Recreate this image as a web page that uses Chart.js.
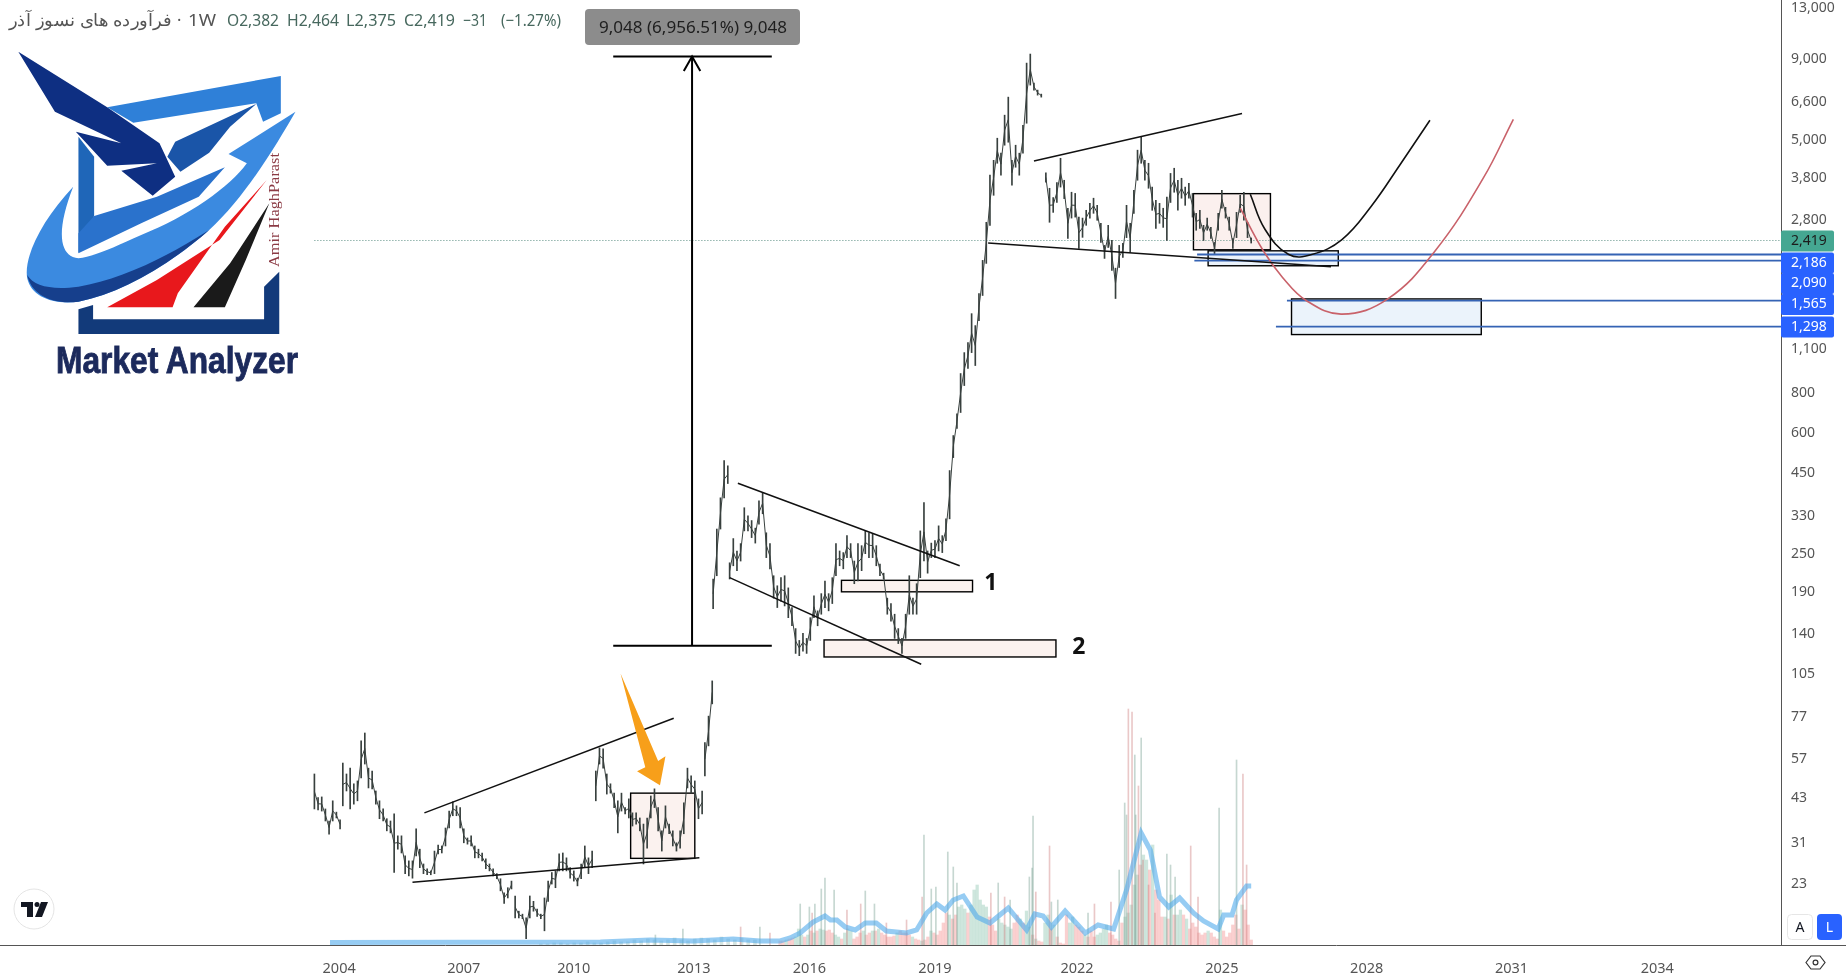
<!DOCTYPE html>
<html>
<head>
<meta charset="utf-8">
<title>chart</title>
<script src="https://cdn.jsdelivr.net/npm/chart.js@4"></script>
<style>
  html, body { margin: 0; padding: 0; background: #fff; overflow: hidden; }
  #wrap { position: relative; width: 1846px; height: 978px; }
  #chart { position: absolute; left: 0; top: 0; }
  #over { position: absolute; left: 0; top: 0; pointer-events: none; }
</style>
</head>
<body>
<div id="wrap">
  <canvas id="chart" width="1846" height="978"></canvas>
  <svg id="over" width="1846" height="978" viewBox="0 0 1846 978">
    <!-- header -->
    <g font-family="Noto Sans" font-size="16.5">
      <text x="9" y="26" fill="#555" direction="ltr" font-family="Noto Sans, Noto Sans CJK SC" textLength="162" lengthAdjust="spacingAndGlyphs">فرآورده های نسوز آذر</text>
      <text x="177" y="26" fill="#555">·</text>
      <text x="188" y="26" fill="#555" textLength="28" lengthAdjust="spacingAndGlyphs">1W</text>
      <g fill="#47685e">
        <text x="227" y="26" textLength="52" lengthAdjust="spacingAndGlyphs">O2,382</text>
        <text x="287" y="26" textLength="52" lengthAdjust="spacingAndGlyphs">H2,464</text>
        <text x="346" y="26" textLength="50" lengthAdjust="spacingAndGlyphs">L2,375</text>
        <text x="404" y="26" textLength="51" lengthAdjust="spacingAndGlyphs">C2,419</text>
        <text x="463" y="26" textLength="24" lengthAdjust="spacingAndGlyphs">−31</text>
        <text x="501" y="26" textLength="60" lengthAdjust="spacingAndGlyphs">(−1.27%)</text>
      </g>
    </g>
    <!-- ruler label -->
    <rect x="585" y="9" width="215" height="36" rx="4" fill="#8c8c8c"/>
    <text x="599" y="33" font-family="Noto Sans" font-size="17" fill="#1e1e1e" textLength="188" lengthAdjust="spacingAndGlyphs">9,048 (6,956.51%) 9,048</text>
    <!-- brand mark, drawn in a 1568x1200 box stretched over the top left corner -->
    <svg x="0" y="0" width="820" height="400" viewBox="0 0 1568 1200" preserveAspectRatio="none">
      <polygon points="205,322 537,228 537,340 503,365 490,310 255,368" fill="#2f80d8"/>
      <polygon points="150,410 180,470 180,648 150,760" fill="#1f66b8"/>
      <polygon points="180,648 300,590 430,502 380,590 270,670 150,760 150,700" fill="#2a72cc"/>
      <path d="M140,560 C80,660 45,770 52,835 C60,890 100,915 150,905 C230,880 320,800 400,690 C470,590 530,430 565,335 L437,462 L472,490 C440,560 360,650 270,705 C220,740 180,770 150,775 C115,770 105,700 140,560 Z" fill="#3b8ae0"/>
      <path d="M52,825 C60,885 100,915 150,905 C230,880 320,800 400,690 C320,770 230,840 150,860 C100,870 65,860 52,825 Z" fill="#163f8c"/>
      <polygon points="35,155 205,322 305,430 335,530 292,587 232,512 300,490 205,497 145,395 232,430 105,335" fill="#0e2f82"/>
      <polygon points="490,312 440,380 400,458 345,515 320,470 335,425" fill="#1a55a8"/>
      <polygon points="510,540 430,680 340,880 330,922 205,922 300,840 420,720" fill="#e8181c"/>
      <polygon points="515,610 470,780 430,922 370,922 440,790" fill="#1a1a1a"/>
      <polygon points="150,928 178,915 178,958 505,958 505,860 534,815 534,1002 150,1002" fill="#123a7a"/>
    </svg>
    <text transform="translate(279,267) rotate(-90)" font-family="Liberation Serif" font-size="14" fill="#8b3a44" textLength="114" lengthAdjust="spacingAndGlyphs">Amir HaghParast</text>
    <text x="56" y="373" font-family="Liberation Sans" font-weight="700" font-size="37" fill="#1c2a5c" stroke="#1c2a5c" stroke-width="0.9" textLength="242" lengthAdjust="spacingAndGlyphs">Market Analyzer</text>
    <!-- site badge -->
    <circle cx="34" cy="909" r="20" fill="#fff" stroke="#e4e4e4"/>
    <polygon points="21,902 33,902 33,917 27,917 27,907 21,907" fill="#131722"/>
    <circle cx="37" cy="904.5" r="2.5" fill="#131722"/>
    <polygon points="41,902 48,902 42,917 35,917" fill="#131722"/>
    <!-- scale buttons -->
    <rect x="1787.5" y="914.5" width="25" height="25" rx="4" fill="#fff" stroke="#e6e6e6"/>
    <text x="1800" y="932" text-anchor="middle" font-family="Noto Sans" font-size="14" fill="#131722">A</text>
    <rect x="1817" y="914" width="25" height="26" rx="4" fill="#2962ff"/>
    <text x="1829.5" y="932" text-anchor="middle" font-family="Noto Sans" font-size="14" fill="#fff">L</text>
    <!-- settings eye -->
    <polygon points="1806,962.5 1811,956 1820,956 1825,962.5 1820,969 1811,969" fill="none" stroke="#333" stroke-width="1.2"/>
    <circle cx="1815.5" cy="962.5" r="2.4" fill="none" stroke="#333" stroke-width="1.2"/>
  </svg>
</div>

<script>
// axis labels
var priceTicks = [13000, 9000, 6600, 5000, 3800, 2800, 1100, 800, 600, 450, 330, 250, 190, 140, 105, 77, 57, 43, 31, 23];
var yearLabels = ["2004", "2007", "2010", "2013", "2016", "2019", "2022", "2025", "2028", "2031", "2034"];
var yearBars = [370, 506, 626, 757, 883, 1020, 1175, 1333, 1491, 1649, 1808];
var lastBar = 1943;
var lastPrice = 2419;

// price history, one high and low every 4 bars, one pair of arrays per unbroken stretch
var priceStep = 4;
var highs1 = [51, 43, 43.2, 39.6, 36.3, 42, 38.7, 36.6];
var lows1 = [39.6, 39.3, 39, 36.3, 33, 36.3, 37.1, 34.3];
var highs2 = [55.2, 51, 53.2, 47.5, 48.5, 64.8, 68.6, 53.2, 52.1, 45.1, 42, 39.6, 36.9, 36.3, 38.2, 32.6, 32.6, 28.2, 27.2, 27.2, 34.3, 29.6, 26.6, 25.7, 25.3, 29.2, 30.5, 30.3, 34.5, 39, 41.7, 40.5, 40, 34.3, 32.1, 32.6, 30.3, 29.6, 28.8, 27.6, 26.6, 25.7, 24.8, 23.9, 21.6, 22.4, 23.5];
var lows2 = [40.5, 45.1, 39.6, 41, 42, 49.6, 54.8, 46.1, 45.8, 41, 36.9, 36.3, 33.8, 33.3, 25, 29.6, 28.8, 24.8, 24.4, 24, 28.2, 25.9, 24.8, 24.6, 24.6, 24.8, 28.6, 28.8, 30.3, 34.5, 37.7, 37.7, 34.5, 31, 30.7, 30.3, 27.8, 27.8, 27.2, 25.7, 25.3, 24.4, 23.9, 21.9, 20, 20.8, 22.2];
var highs3 = [21.1, 18.9, 18.5, 18, 21.1, 20.3, 19.2, 18.5, 20.8, 23.5, 25, 25.3, 28.6, 28.8, 27.8, 25.9, 25.3, 24, 26.6, 30.3, 27.8, 29.2];
var lows3 = [18, 18, 17.9, 15.5, 18, 18.9, 18.2, 17.9, 16.4, 20.3, 23, 22.4, 25.3, 25.3, 25.3, 24, 23.5, 22.7, 23.9, 25.9, 24.8, 25.9];
var highs4 = [52.1, 61.6, 61.2, 51, 47.5, 44.4, 42, 44.4, 40, 42.6, 38.5, 38.5, 37.1, 35.5, 37.1, 43.5, 45.8, 40, 33.8, 40.5, 35.5, 33.8, 31, 33.8, 41.4, 53.2, 50.3, 48.5, 42.6, 45.1];
var lows4 = [42, 54.8, 53.2, 44.1, 44.4, 40, 33.3, 39, 38.2, 37.1, 35, 35.5, 33.8, 26.6, 29.8, 37.1, 40, 33.8, 29.2, 34.5, 33.1, 30.3, 29.2, 29.8, 33.1, 46.1, 44.4, 43, 36.9, 38.2];
var highs5 = [64, 77.5, 100];
var lows5 = [50.3, 62.5, 84.7];
var highs6 = [209, 300, 376, 492, 474];
var lows6 = [168.5, 214, 300, 376, 417];
var highs7 = [235, 280, 256, 270, 350, 330, 319, 302, 368, 390, 292, 270, 214, 199, 211, 214, 196, 170, 146, 134, 141, 136, 158, 185, 166, 188, 206, 188, 211, 270, 256, 253, 286, 270, 238, 270, 266, 296, 292, 290, 266, 233, 218, 182, 175, 162, 146, 136, 162, 214, 182, 202, 296, 363, 256, 271, 276, 307, 286, 323, 458, 590, 690, 924, 1075, 1156, 1425, 1307, 1648, 2095, 2760, 3880, 4320, 5070, 4550, 5990, 6825, 4320, 4820, 4550, 5570, 8730, 9320, 7550, 7180, 6975];
var lows7 = [209, 230, 222, 238, 296, 296, 282, 271, 311, 335, 244, 225, 182, 170, 178, 172, 158, 149, 122, 120, 124, 122, 134, 158, 149, 162, 170, 166, 175, 214, 230, 225, 244, 244, 202, 206, 222, 251, 244, 244, 230, 214, 209, 162, 154, 136, 131, 122, 136, 162, 162, 162, 211, 238, 218, 244, 244, 256, 253, 276, 323, 503, 621, 697, 847, 958, 1075, 979, 1355, 1625, 2050, 2700, 3355, 4230, 3880, 4820, 4925, 3610, 4110, 3880, 4550, 5650, 7445, 7180, 6925, 6825];
var highs8 = [3950, 3530, 3300, 3680, 4385, 3740, 3055, 3430, 3400, 2865, 2845, 3010, 3165, 3285, 3120, 2740, 2335, 2700, 2420, 1980, 2335, 2370, 3120, 2740, 3480, 4650, 5110, 4320, 4230, 3560, 3235, 3165, 3055, 3310, 3930, 4080, 3740, 3795, 3560, 3660, 3400, 2945, 3010, 2700, 2845, 2660, 2385, 2945, 3480, 3075, 2865, 2455, 2965, 3355, 3430, 2760, 2464];
var lows8 = [3690, 2760, 2965, 3185, 3560, 3275, 2455, 2845, 2865, 2285, 2475, 2700, 2845, 2945, 2800, 2385, 2125, 2300, 1950, 1590, 1990, 2140, 2470, 2220, 2945, 3740, 4230, 3740, 3530, 3010, 2640, 2740, 2660, 2420, 3185, 3430, 3010, 3285, 3120, 3285, 2865, 2605, 2640, 2420, 2605, 2455, 2200, 2605, 3055, 2845, 2605, 2285, 2470, 2965, 2800, 2470, 2375];
var stretchStart = [343, 374, 562, 650, 769, 778, 796, 1141];
var stretchHighs = [highs1, highs2, highs3, highs4, highs5, highs6, highs7, highs8];
var stretchLows = [lows1, lows2, lows3, lows4, lows5, lows6, lows7, lows8];

// volume, hidden axis
var volEarlyStart = 590;
var volEarlyStep = 7.3;
var volEarly = [1, 1, 2, 2, 1, 2, 2, 3, 2, 2, 3, 4, 3, 3, 5, 4, 6, 5, 4, 5, 7, 5, 4, 6, 7, 6, 5, 8, 6, 5, 7, 5, 5];
var volStart = 851;
var volStep = 3.36;
var volBase = [4, 4, 5, 6, 7, 8, 16, 10, 8, 10, 14, 12, 14, 16, 15, 14, 15, 12, 10, 8, 6, 12, 16, 14, 6, 8, 12, 14, 10, 12, 14, 14, 16, 12, 10, 8, 8, 9, 12, 14, 12, 12, 10, 8, 6, 5, 4, 5, 8, 14, 12, 10, 14, 22, 32, 30, 26, 30, 38, 40, 36, 32, 40, 55, 60, 45, 40, 38, 28, 20, 14, 26, 22, 20, 18, 16, 22, 30, 26, 22, 34, 18, 10, 6, 4, 3, 22, 30, 16, 20, 8, 2, 1, 30, 22, 28, 20, 18, 14, 10, 8, 14, 8, 10, 12, 16, 20, 12, 10, 6, 4, 22, 28, 32, 40, 60, 70, 80, 90, 85, 75, 100, 55, 45, 28, 28, 26, 50, 30, 30, 35, 30, 26, 16, 22, 18, 12, 10, 12, 14, 12, 8, 6, 35, 14, 8, 12, 20, 30, 16, 40, 35, 20, 5];
var volBaseUp = [0, 0, 1, 0, 0, 1, 1, 1, 0, 1, 0, 1, 0, 1, 1, 0, 0, 0, 1, 1, 0, 1, 1, 1, 0, 0, 0, 1, 0, 0, 1, 0, 1, 0, 0, 0, 0, 0, 1, 0, 0, 0, 0, 1, 0, 0, 1, 0, 0, 1, 0, 0, 0, 0, 0, 1, 0, 0, 1, 1, 1, 0, 1, 1, 1, 1, 1, 1, 0, 0, 0, 1, 1, 1, 1, 1, 0, 0, 1, 0, 1, 1, 0, 1, 0, 0, 1, 1, 0, 1, 0, 0, 0, 0, 1, 1, 0, 0, 0, 1, 0, 0, 0, 1, 1, 1, 1, 0, 0, 0, 0, 0, 1, 1, 1, 1, 1, 0, 1, 1, 0, 1, 0, 0, 0, 1, 0, 1, 0, 1, 1, 0, 1, 0, 0, 0, 0, 0, 0, 1, 0, 0, 0, 1, 0, 0, 0, 0, 0, 0, 1, 0, 0, 0];
var spikeBars = [715, 745, 808, 829, 840, 873, 883, 886, 889, 896, 900, 910, 924, 939, 944, 954, 967, 989, 1006, 1008, 1016, 1021, 1034, 1040, 1044, 1081, 1089, 1096, 1102, 1123, 1126, 1127, 1130, 1145, 1147, 1154, 1187, 1194, 1212, 1221, 1227, 1229, 1231, 1235, 1238, 1239, 1242, 1245, 1247, 1253, 1260, 1273, 1277, 1282, 1299, 1307, 1330, 1349, 1356, 1360];
var spikeVol = [10, 16, 18, 18, 12, 41, 38, 32, 41, 56, 67, 55, 35, 41, 54, 41, 22, 25, 48, 110, 56, 58, 93, 78, 62, 52, 62, 48, 45, 68, 77, 129, 53, 99, 43, 45, 32, 41, 43, 75, 142, 130, 236, 233, 190, 130, 159, 207, 85, 60, 32, 91, 80, 68, 99, 48, 137, 185, 171, 80];
var spikeUp = [1, 1, 0, 1, 0, 1, 1, 0, 1, 1, 1, 1, 0, 0, 1, 1, 0, 0, 0, 1, 1, 1, 1, 1, 1, 0, 1, 0, 1, 1, 1, 1, 0, 0, 1, 1, 1, 0, 0, 1, 1, 1, 0, 0, 1, 1, 0, 1, 0, 0, 0, 1, 1, 1, 0, 0, 1, 1, 0, 0];
var volAvgBars = [360, 655, 709, 756, 800, 829, 851, 862, 873, 887, 900, 906, 913, 922, 933, 944, 956, 967, 989, 1000, 1011, 1022, 1031, 1040, 1051, 1066, 1080, 1100, 1120, 1129, 1138, 1147, 1162, 1184, 1198, 1215, 1229, 1245, 1255, 1265, 1275, 1287, 1302, 1313, 1329, 1335, 1344, 1349, 1360, 1365];
var volAvg = [2.5, 3, 5, 4, 6, 4, 4, 7, 12, 23, 29, 25, 25, 18, 15, 22, 22, 14, 12, 15, 32, 41, 35, 45, 49, 28, 22, 37, 15, 31, 29, 18, 34, 12, 20, 16, 55, 112, 95, 48, 38, 47, 32, 24, 16, 30, 30, 45, 59, 59];

// drawings
var trendLines = [
  { bars: [463, 735], prices: [38.5, 76.3] },
  { bars: [450, 763], prices: [23.3, 27.8] },
  { bars: [805, 1047], prices: [418, 230] },
  { bars: [796, 1005], prices: [211, 112.8] },
  { bars: [1128, 1355], prices: [4300, 6065] },
  { bars: [1078, 1452], prices: [2375, 2000] }
];
var rulerBars = [669, 842, 755, 755, 746, 755, 764];
var rulerTop = 9150;
var rulerBottom = 129;
var rulerHeadPrice = 8240;
var boxLeft = [688, 918, 899, 1302, 1318, 1409];
var boxRight = [758, 1061, 1152, 1386, 1460, 1616];
var boxTop = [44.4, 207, 134.5, 3395, 2245, 1585];
var boxBottom = [27.7, 190.5, 118.9, 2262, 2015, 1225];
var boxFill = ["#fbf2ef", "#fbf2ef", "#fbf2ef", "#fbf0ee", "#ebf3fb", "#ebf3fb"];
var levelValues = [2186, 2090, 1565, 1298];
var levelStart = [1306, 1303, 1404, 1392];
var blackCurveBars = [1364, 1380, 1406, 1431, 1464, 1496, 1527, 1560];
var blackCurve = [3380, 2625, 2185, 2185, 2435, 3100, 4170, 5775];
var redCurveBars = [1353, 1378, 1399, 1425, 1464, 1514, 1566, 1618, 1651];
var redCurve = [3055, 2250, 1855, 1567, 1420, 1585, 2250, 3790, 5815];
var arrowBars = [677, 718, 726, 720, 695, 704];
var arrowPrices = [105.5, 56, 58, 47, 52, 53.5];
var noteText = ["1", "2"];
var noteBars = [1081, 1177];
var notePrices = [202, 127];

// price scale tags sit stacked, they do not fall exactly on their level
var tagRows = [
  { text: "2,419", y: 241, fill: "#45a792", color: "#1c1c1c" },
  { text: "2,186", y: 263, fill: "#2962ff", color: "#fff" },
  { text: "2,090", y: 283.5, fill: "#2962ff", color: "#fff" },
  { text: "1,565", y: 304.5, fill: "#2962ff", color: "#fff" },
  { text: "1,298", y: 327, fill: "#2962ff", color: "#fff" }
];

var INK = "#38403e";
var datasets = [];

function lineSet(bars, prices, color, width, extra) {
  var d = {
    type: "line",
    data: bars.map(function(b, i) { return { x: b, y: prices[i] }; }),
    borderColor: color,
    borderWidth: width,
    pointRadius: 0,
    fill: false,
    tension: 0,
    yAxisID: "y",
    order: 1
  };
  for (var k in extra) d[k] = extra[k];
  return d;
}

// volume first so it stays under the price
datasets.push({
  type: "bar",
  data: volEarly.map(function(v, i) { return { x: volEarlyStart + i * volEarlyStep, y: v }; }),
  backgroundColor: "rgba(120,170,160,0.3)",
  barThickness: 3,
  yAxisID: "y2",
  order: 9
});
datasets.push({
  type: "bar",
  data: volBase.map(function(v, i) { return { x: volStart + i * volStep, y: v }; }),
  backgroundColor: volBaseUp.map(function(u) { return u ? "rgba(120,185,160,0.36)" : "rgba(239,110,110,0.32)"; }),
  barThickness: 2.6,
  yAxisID: "y2",
  order: 8
});
datasets.push({
  type: "bar",
  data: spikeBars.map(function(b, i) { return { x: b, y: spikeVol[i] }; }),
  backgroundColor: spikeUp.map(function(u) { return u ? "rgba(120,160,145,0.42)" : "rgba(205,125,125,0.42)"; }),
  barThickness: 1,
  yAxisID: "y2",
  order: 7
});
datasets.push(lineSet(volAvgBars, volAvg, "rgba(80,170,235,0.6)", 5, { yAxisID: "y2", order: 6 }));

// last price dotted line
datasets.push(lineSet([343, lastBar], [lastPrice, lastPrice], "#5c8f84", 1, { borderDash: [1, 2], order: 5 }));

// price, wicks and the path through them
stretchStart.forEach(function(start, n) {
  var highs = stretchHighs[n];
  var lows = stretchLows[n];
  var bars = highs.map(function(h, i) { return start + i * priceStep; });
  datasets.push({
    type: "bar",
    data: bars.map(function(b, i) { return { x: b, y: [lows[i], highs[i]] }; }),
    backgroundColor: INK,
    barThickness: 1,
    yAxisID: "y",
    order: 4
  });
  var mids = highs.map(function(h, i) { return Math.sqrt(h * lows[i]); });
  datasets.push(lineSet(bars, mids, INK, 1, { order: 4 }));
});

// drawn lines
levelValues.forEach(function(v, i) {
  datasets.push(lineSet([levelStart[i], lastBar], [v, v], "#3563b4", 1.8, { order: 3 }));
});
trendLines.forEach(function(t) {
  datasets.push(lineSet(t.bars, t.prices, "#111", 1.5, { order: 2 }));
});
datasets.push(lineSet([rulerBars[0], rulerBars[1]], [rulerTop, rulerTop], "#000", 2, { order: 2 }));
datasets.push(lineSet([rulerBars[0], rulerBars[1]], [rulerBottom, rulerBottom], "#000", 2, { order: 2 }));
datasets.push(lineSet([rulerBars[2], rulerBars[3]], [rulerBottom, rulerTop], "#000", 2, { order: 2 }));
datasets.push(lineSet([rulerBars[4], rulerBars[5], rulerBars[6]], [rulerHeadPrice, rulerTop, rulerHeadPrice], "#000", 2, { order: 2 }));
datasets.push(lineSet(blackCurveBars, blackCurve, "#111", 1.6, { tension: 0.4, order: 2 }));
datasets.push(lineSet(redCurveBars, redCurve, "#c9626a", 1.6, { tension: 0.4, order: 2 }));

var boxesPlugin = {
  id: "boxes",
  beforeDatasetsDraw: function(chart) {
    var c = chart.ctx, x = chart.scales.x, y = chart.scales.y;
    c.save();
    boxLeft.forEach(function(l, i) {
      var px = x.getPixelForValue(l), py = y.getPixelForValue(boxTop[i]);
      var w = x.getPixelForValue(boxRight[i]) - px, h = y.getPixelForValue(boxBottom[i]) - py;
      c.fillStyle = boxFill[i];
      c.fillRect(px, py, w, h);
      c.strokeStyle = "#000";
      c.lineWidth = 1.4;
      c.strokeRect(px, py, w, h);
    });
    c.restore();
  }
};

var marksPlugin = {
  id: "marks",
  afterDatasetsDraw: function(chart) {
    var c = chart.ctx, x = chart.scales.x, y = chart.scales.y;
    c.save();
    c.beginPath();
    arrowBars.forEach(function(b, i) {
      c.lineTo(x.getPixelForValue(b), y.getPixelForValue(arrowPrices[i]));
    });
    c.closePath();
    c.fillStyle = "#f79f1a";
    c.fill();
    c.fillStyle = "#111";
    c.font = "700 23px 'Noto Sans'";
    c.textAlign = "center";
    c.textBaseline = "middle";
    noteText.forEach(function(t, i) {
      c.fillText(t, x.getPixelForValue(noteBars[i]), y.getPixelForValue(notePrices[i]));
    });
    c.restore();
  },
  afterDraw: function(chart) {
    var c = chart.ctx, a = chart.chartArea;
    c.save();
    c.strokeStyle = "#555";
    c.lineWidth = 1;
    c.beginPath();
    c.moveTo(a.right, a.bottom + 0.5);
    c.lineTo(1846, a.bottom + 0.5);
    c.stroke();
    c.font = "14px 'Noto Sans'";
    c.textAlign = "left";
    c.textBaseline = "middle";
    tagRows.forEach(function(t) {
      c.fillStyle = t.fill;
      c.beginPath();
      c.roundRect(a.right, t.y - 10.5, 53, 21, 2);
      c.fill();
      c.fillStyle = t.color;
      c.fillText(t.text, a.right + 10, t.y);
    });
    c.restore();
  }
};

new Chart(document.getElementById("chart"), {
  data: { datasets: datasets },
  plugins: [boxesPlugin, marksPlugin],
  options: {
    responsive: false,
    animation: false,
    parsing: { xAxisKey: "x", yAxisKey: "y" },
    layout: { padding: 0 },
    plugins: { legend: { display: false }, tooltip: { enabled: false } },
    datasets: { bar: { grouped: false } },
    scales: {
      x: {
        type: "linear",
        min: 0,
        max: lastBar,
        offset: false,
        grid: { display: false },
        border: { color: "#555", width: 1 },
        afterFit: function(s) { s.height = 33; s.paddingLeft = 0; s.paddingRight = 0; },
        afterBuildTicks: function(s) { s.ticks = yearBars.map(function(b) { return { value: b }; }); },
        ticks: {
          autoSkip: false,
          maxRotation: 0,
          padding: 7,
          color: "#555",
          font: { family: "Noto Sans", size: 14.5 },
          callback: function(v) { return yearLabels[yearBars.indexOf(v)]; }
        }
      },
      y: {
        type: "logarithmic",
        position: "right",
        min: 14.8,
        max: 13780,
        grid: { display: false, drawTicks: false },
        border: { color: "#555", width: 1 },
        afterFit: function(s) { s.width = 65; s.paddingTop = 0; s.paddingBottom = 0; },
        afterBuildTicks: function(s) { s.ticks = priceTicks.map(function(v) { return { value: v }; }); },
        ticks: {
          autoSkip: false,
          padding: 10,
          color: "#555",
          font: { family: "Noto Sans", size: 14 },
          callback: function(v) { return v.toLocaleString("en-US"); }
        }
      },
      y2: { display: false, min: 0, max: 945 }
    }
  }
});
</script>
</body>
</html>
